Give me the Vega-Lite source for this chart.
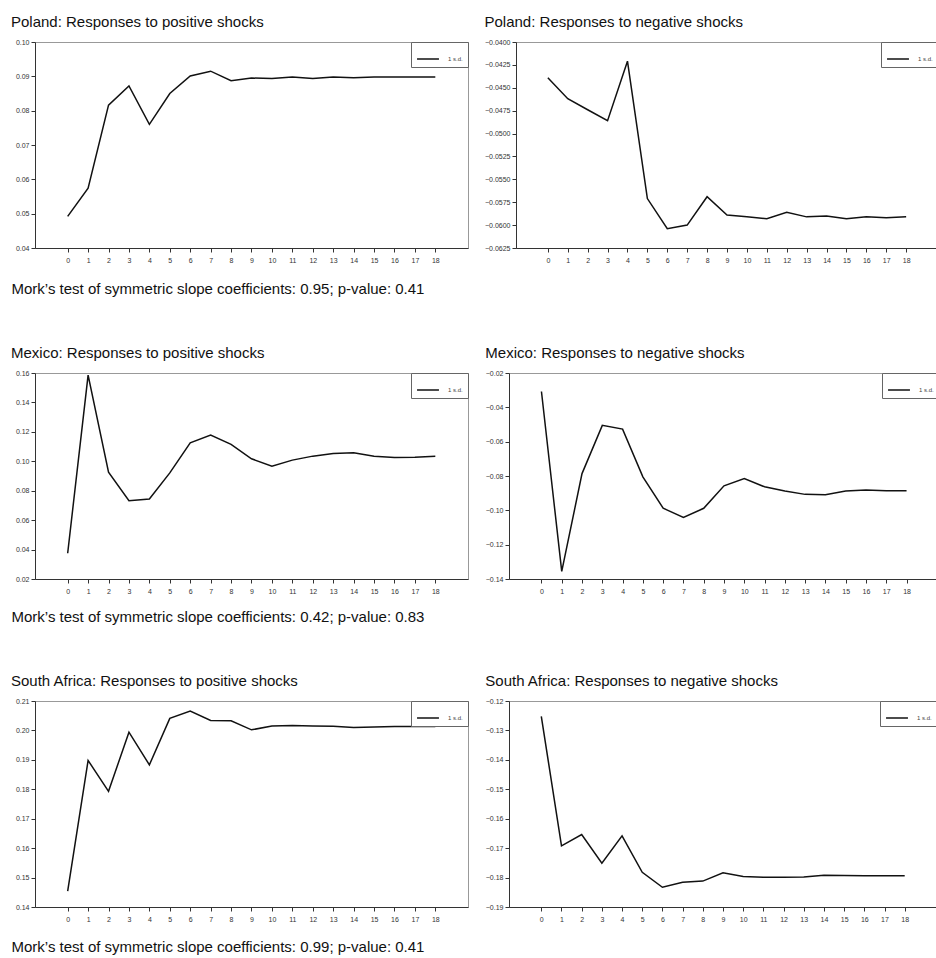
{
  "$schema": "https://vega.github.io/schema/vega-lite/v6.json",
  "padding": {"left": 10, "top": 14, "right": 0, "bottom": 0},
  "background": "white",
  "spacing": 48,
  "resolve": {"scale": {"color": "independent"}, "legend": {"color": "independent"}},
  "config": {
    "font": "Liberation Sans",
    "view": {"stroke": "#999", "strokeWidth": 1},
    "title": {"anchor": "start", "fontSize": 15, "fontWeight": "normal", "color": "#111", "offset": 8},
    "axis": {
      "grid": false,
      "domainColor": "#333",
      "tickColor": "#333",
      "tickSize": 4,
      "labelFontSize": 7,
      "labelColor": "#333",
      "labelPadding": 2
    },
    "axisX": {"labelPadding": 4, "labelAngle": 0},
    "legend": {
      "orient": "top-right",
      "offset": 0,
      "title": null,
      "strokeColor": "#666",
      "fillColor": "white",
      "padding": 5,
      "symbolType": "stroke",
      "symbolSize": 480,
      "symbolStrokeWidth": 1.5,
      "labelFontSize": 6,
      "labelOffset": 8,
      "labelColor": "#444",
      "cornerRadius": 0
    },
    "line": {"color": "#111", "strokeWidth": 1.5}
  },
  "datasets": {
    "poland_pos": [
      {"h": 0, "value": 0.0492}, {"h": 1, "value": 0.0574}, {"h": 2, "value": 0.0816}, {"h": 3, "value": 0.0872},
      {"h": 4, "value": 0.0760}, {"h": 5, "value": 0.0850}, {"h": 6, "value": 0.0901}, {"h": 7, "value": 0.0915},
      {"h": 8, "value": 0.0887}, {"h": 9, "value": 0.0895}, {"h": 10, "value": 0.0894}, {"h": 11, "value": 0.0898},
      {"h": 12, "value": 0.0894}, {"h": 13, "value": 0.0898}, {"h": 14, "value": 0.0896}, {"h": 15, "value": 0.0898},
      {"h": 16, "value": 0.0898}, {"h": 17, "value": 0.0898}, {"h": 18, "value": 0.0898}
    ],
    "poland_neg": [
      {"h": 0, "value": -0.0439}, {"h": 1, "value": -0.0462}, {"h": 2, "value": -0.0474}, {"h": 3, "value": -0.0486},
      {"h": 4, "value": -0.0421}, {"h": 5, "value": -0.0571}, {"h": 6, "value": -0.0604}, {"h": 7, "value": -0.0600},
      {"h": 8, "value": -0.0569}, {"h": 9, "value": -0.0589}, {"h": 10, "value": -0.0591}, {"h": 11, "value": -0.0593},
      {"h": 12, "value": -0.0586}, {"h": 13, "value": -0.0591}, {"h": 14, "value": -0.0590}, {"h": 15, "value": -0.0593},
      {"h": 16, "value": -0.0591}, {"h": 17, "value": -0.0592}, {"h": 18, "value": -0.0591}
    ],
    "mexico_pos": [
      {"h": 0, "value": 0.0375}, {"h": 1, "value": 0.1586}, {"h": 2, "value": 0.0926}, {"h": 3, "value": 0.0732},
      {"h": 4, "value": 0.0744}, {"h": 5, "value": 0.0921}, {"h": 6, "value": 0.1126}, {"h": 7, "value": 0.1178},
      {"h": 8, "value": 0.1115}, {"h": 9, "value": 0.1017}, {"h": 10, "value": 0.0967}, {"h": 11, "value": 0.1008},
      {"h": 12, "value": 0.1035}, {"h": 13, "value": 0.1053}, {"h": 14, "value": 0.1058}, {"h": 15, "value": 0.1035},
      {"h": 16, "value": 0.1026}, {"h": 17, "value": 0.1028}, {"h": 18, "value": 0.1035}
    ],
    "mexico_neg": [
      {"h": 0, "value": -0.0308}, {"h": 1, "value": -0.1356}, {"h": 2, "value": -0.0786}, {"h": 3, "value": -0.0505},
      {"h": 4, "value": -0.0527}, {"h": 5, "value": -0.0805}, {"h": 6, "value": -0.0988}, {"h": 7, "value": -0.1041},
      {"h": 8, "value": -0.0988}, {"h": 9, "value": -0.0857}, {"h": 10, "value": -0.0815}, {"h": 11, "value": -0.0863},
      {"h": 12, "value": -0.0888}, {"h": 13, "value": -0.0907}, {"h": 14, "value": -0.0909}, {"h": 15, "value": -0.0888},
      {"h": 16, "value": -0.0882}, {"h": 17, "value": -0.0886}, {"h": 18, "value": -0.0886}
    ],
    "safrica_pos": [
      {"h": 0, "value": 0.1454}, {"h": 1, "value": 0.1898}, {"h": 2, "value": 0.1793}, {"h": 3, "value": 0.1994},
      {"h": 4, "value": 0.1883}, {"h": 5, "value": 0.2041}, {"h": 6, "value": 0.2066}, {"h": 7, "value": 0.2034},
      {"h": 8, "value": 0.2033}, {"h": 9, "value": 0.2002}, {"h": 10, "value": 0.2015}, {"h": 11, "value": 0.2017},
      {"h": 12, "value": 0.2015}, {"h": 13, "value": 0.2014}, {"h": 14, "value": 0.2010}, {"h": 15, "value": 0.2012},
      {"h": 16, "value": 0.2013}, {"h": 17, "value": 0.2013}, {"h": 18, "value": 0.2013}
    ],
    "safrica_neg": [
      {"h": 0, "value": -0.1252}, {"h": 1, "value": -0.1692}, {"h": 2, "value": -0.1654}, {"h": 3, "value": -0.1751},
      {"h": 4, "value": -0.1658}, {"h": 5, "value": -0.1782}, {"h": 6, "value": -0.1833}, {"h": 7, "value": -0.1816},
      {"h": 8, "value": -0.1812}, {"h": 9, "value": -0.1784}, {"h": 10, "value": -0.1796}, {"h": 11, "value": -0.1799},
      {"h": 12, "value": -0.1799}, {"h": 13, "value": -0.1798}, {"h": 14, "value": -0.1792}, {"h": 15, "value": -0.1793},
      {"h": 16, "value": -0.1794}, {"h": 17, "value": -0.1794}, {"h": 18, "value": -0.1794}
    ]
  },
  "vconcat": [
    {
      "resolve": {"scale": {"color": "independent"}, "legend": {"color": "independent"}},
      "spacing": 15,
      "hconcat": [
        {
          "title": "Poland: Responses to positive shocks",
          "width": 433, "height": 206,
          "data": {"name": "poland_pos"},
          "mark": "line",
          "encoding": {
            "x": {"field": "h", "type": "quantitative", "scale": {"domain": [-1.6, 19.6], "nice": false, "zero": false},
              "axis": {"values": [0,1,2,3,4,5,6,7,8,9,10,11,12,13,14,15,16,17,18],
                "title": "Mork’s test of symmetric slope coefficients: 0.95; p-value: 0.41",
                "titleFontSize": 15, "titleFontWeight": "normal", "titleColor": "#111",
                "titleAnchor": null, "titleAlign": "left", "titleBaseline": "alphabetic", "titleX": -24, "titleY": 45}},
            "y": {"field": "value", "type": "quantitative", "scale": {"domain": [0.04, 0.10], "nice": false, "zero": false},
              "axis": {"values": [0.04,0.05,0.06,0.07,0.08,0.09,0.10], "format": ".2f", "title": null}},
            "color": {"datum": "1 s.d.", "scale": {"range": ["#111"]}}
          }
        },
        {
          "title": "Poland: Responses to negative shocks",
          "width": 422, "height": 206,
          "data": {"name": "poland_neg"},
          "mark": "line",
          "encoding": {
            "x": {"field": "h", "type": "quantitative", "scale": {"domain": [-1.6, 19.6], "nice": false, "zero": false},
              "axis": {"values": [0,1,2,3,4,5,6,7,8,9,10,11,12,13,14,15,16,17,18], "title": null}},
            "y": {"field": "value", "type": "quantitative", "scale": {"domain": [-0.0625, -0.04], "nice": false, "zero": false},
              "axis": {"values": [-0.0625,-0.06,-0.0575,-0.055,-0.0525,-0.05,-0.0475,-0.045,-0.0425,-0.04], "format": ".4f", "title": null}},
            "color": {"datum": "1 s.d.", "scale": {"range": ["#111"]}}
          }
        }
      ]
    },
    {
      "resolve": {"scale": {"color": "independent"}, "legend": {"color": "independent"}},
      "spacing": 15,
      "hconcat": [
        {
          "title": "Mexico: Responses to positive shocks",
          "width": 433, "height": 206,
          "data": {"name": "mexico_pos"},
          "mark": "line",
          "encoding": {
            "x": {"field": "h", "type": "quantitative", "scale": {"domain": [-1.6, 19.6], "nice": false, "zero": false},
              "axis": {"values": [0,1,2,3,4,5,6,7,8,9,10,11,12,13,14,15,16,17,18],
                "title": "Mork’s test of symmetric slope coefficients: 0.42; p-value: 0.83",
                "titleFontSize": 15, "titleFontWeight": "normal", "titleColor": "#111",
                "titleAnchor": null, "titleAlign": "left", "titleBaseline": "alphabetic", "titleX": -24, "titleY": 42}},
            "y": {"field": "value", "type": "quantitative", "scale": {"domain": [0.02, 0.16], "nice": false, "zero": false},
              "axis": {"values": [0.02,0.04,0.06,0.08,0.10,0.12,0.14,0.16], "format": ".2f", "title": null}},
            "color": {"datum": "1 s.d.", "scale": {"range": ["#111"]}}
          }
        },
        {
          "title": "Mexico: Responses to negative shocks",
          "width": 430, "height": 206,
          "data": {"name": "mexico_neg"},
          "mark": "line",
          "encoding": {
            "x": {"field": "h", "type": "quantitative", "scale": {"domain": [-1.6, 19.6], "nice": false, "zero": false},
              "axis": {"values": [0,1,2,3,4,5,6,7,8,9,10,11,12,13,14,15,16,17,18], "title": null}},
            "y": {"field": "value", "type": "quantitative", "scale": {"domain": [-0.14, -0.02], "nice": false, "zero": false},
              "axis": {"values": [-0.14,-0.12,-0.10,-0.08,-0.06,-0.04,-0.02], "format": ".2f", "title": null}},
            "color": {"datum": "1 s.d.", "scale": {"range": ["#111"]}}
          }
        }
      ]
    },
    {
      "resolve": {"scale": {"color": "independent"}, "legend": {"color": "independent"}},
      "spacing": 15,
      "hconcat": [
        {
          "title": "South Africa: Responses to positive shocks",
          "width": 433, "height": 206,
          "data": {"name": "safrica_pos"},
          "mark": "line",
          "encoding": {
            "x": {"field": "h", "type": "quantitative", "scale": {"domain": [-1.6, 19.6], "nice": false, "zero": false},
              "axis": {"values": [0,1,2,3,4,5,6,7,8,9,10,11,12,13,14,15,16,17,18],
                "title": "Mork’s test of symmetric slope coefficients: 0.99; p-value: 0.41",
                "titleFontSize": 15, "titleFontWeight": "normal", "titleColor": "#111",
                "titleAnchor": null, "titleAlign": "left", "titleBaseline": "alphabetic", "titleX": -24, "titleY": 44}},
            "y": {"field": "value", "type": "quantitative", "scale": {"domain": [0.14, 0.21], "nice": false, "zero": false},
              "axis": {"values": [0.14,0.15,0.16,0.17,0.18,0.19,0.20,0.21], "format": ".2f", "title": null}},
            "color": {"datum": "1 s.d.", "scale": {"range": ["#111"]}}
          }
        },
        {
          "title": "South Africa: Responses to negative shocks",
          "width": 428, "height": 206,
          "data": {"name": "safrica_neg"},
          "mark": "line",
          "encoding": {
            "x": {"field": "h", "type": "quantitative", "scale": {"domain": [-1.6, 19.6], "nice": false, "zero": false},
              "axis": {"values": [0,1,2,3,4,5,6,7,8,9,10,11,12,13,14,15,16,17,18], "title": null}},
            "y": {"field": "value", "type": "quantitative", "scale": {"domain": [-0.19, -0.12], "nice": false, "zero": false},
              "axis": {"values": [-0.19,-0.18,-0.17,-0.16,-0.15,-0.14,-0.13,-0.12], "format": ".2f", "title": null}},
            "color": {"datum": "1 s.d.", "scale": {"range": ["#111"]}}
          }
        }
      ]
    }
  ]
}
